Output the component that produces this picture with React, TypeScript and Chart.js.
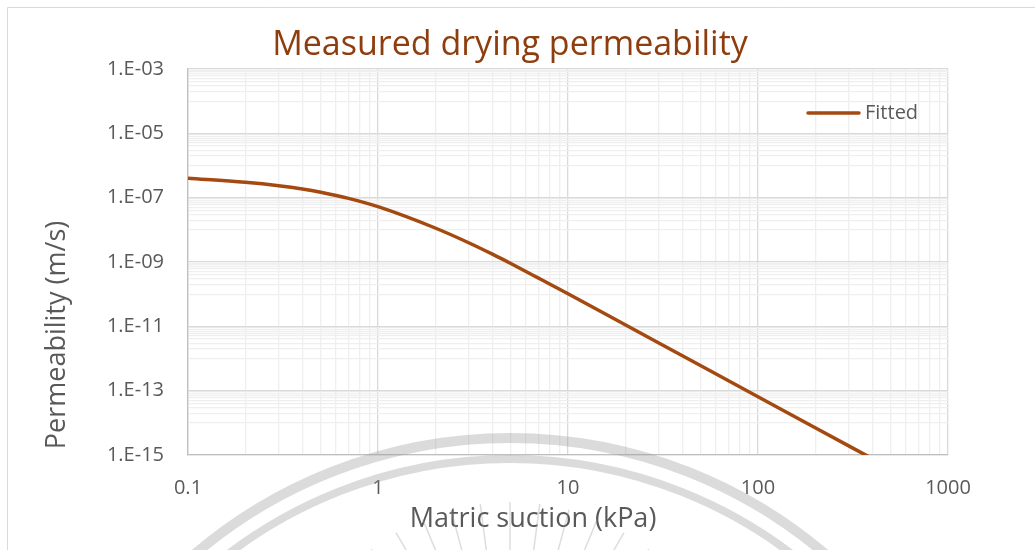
import React, { useEffect, useRef } from "react";
import { Chart, registerables } from "chart.js";

Chart.register(...registerables);

const suction = [0.1, 0.2, 0.3, 0.4, 0.5, 0.7, 1, 2, 3, 4, 5, 7, 10, 20, 40, 100, 200, 400];
const permeability = [
  4.0e-7, 3.0e-7, 2.35e-7, 1.86e-7, 1.47e-7, 9.5e-8, 5.24e-8, 1.14e-8, 3.97e-9, 1.75e-9,
  8.95e-10, 3.15e-10, 1.03e-10, 1.12e-11, 1.22e-12, 6.5e-14, 7.0e-15, 7.7e-16,
];

const xMajorTicks = [0.1, 1, 10, 100, 1000];
const yMajorTicks = [1e-15, 1e-13, 1e-11, 1e-9, 1e-7, 1e-5, 1e-3];

const chartTitle = "Measured drying permeability";
const xTitle = "Matric suction (kPa)";
const yTitle = "Permeability (m/s)";
const seriesName = "Fitted";

const LINE_COLOR = "#A44A10";
const TITLE_COLOR = "#8E3D0E";
const TEXT_COLOR = "#595959";
const FONT = "'Open Sans', 'Noto Sans', sans-serif";

function buildXTicks() {
  const out: { value: number; major: boolean }[] = [];
  for (let i = 0; i < xMajorTicks.length; i++) {
    const m = xMajorTicks[i];
    out.push({ value: m, major: true });
    if (i < xMajorTicks.length - 1) {
      for (let k = 2; k <= 9; k++) out.push({ value: m * k, major: false });
    }
  }
  return out;
}

function buildYTicks() {
  const out: { value: number; major: boolean }[] = [];
  for (let i = 0; i < yMajorTicks.length; i++) {
    const m = yMajorTicks[i];
    if (i > 0) {
      const sub = m / 10;
      for (let k = 1; k <= 9; k++) out.push({ value: sub * k, major: false });
    }
    out.push({ value: m, major: true });
  }
  return out;
}

function fmtY(v: number) {
  const e = Math.round(Math.log10(v));
  const s = String(Math.abs(e)).padStart(2, "0");
  return `1.E${e < 0 ? "-" : "+"}${s}`;
}

const decorPlugin = {
  id: "decor",
  beforeDraw(chart: any) {
    const { ctx, width, height } = chart;
    ctx.save();
    ctx.fillStyle = "#ffffff";
    ctx.fillRect(0, 0, width, height);
    ctx.strokeStyle = "#d9d9d9";
    ctx.lineWidth = 1;
    ctx.beginPath();
    ctx.moveTo(7.5, height);
    ctx.lineTo(7.5, 7.5);
    ctx.lineTo(width, 7.5);
    ctx.stroke();
    ctx.restore();
  },
  afterDraw(chart: any) {
    const { ctx } = chart;
    ctx.save();
    // Title
    ctx.fillStyle = TITLE_COLOR;
    ctx.font = `34px ${FONT}`;
    ctx.textAlign = "center";
    ctx.textBaseline = "alphabetic";
    ctx.fillText(chartTitle, 510, 55);
    // Axis titles
    ctx.fillStyle = TEXT_COLOR;
    ctx.font = `27px ${FONT}`;
    ctx.textBaseline = "middle";
    ctx.fillText(xTitle, 533, 519);
    ctx.save();
    ctx.translate(57, 335);
    ctx.rotate(-Math.PI / 2);
    ctx.fillText(yTitle, 0, 0);
    ctx.restore();
    // Legend
    ctx.strokeStyle = LINE_COLOR;
    ctx.lineWidth = 3.5;
    ctx.lineCap = "round";
    ctx.beginPath();
    ctx.moveTo(808, 113);
    ctx.lineTo(859, 113);
    ctx.stroke();
    ctx.fillStyle = TEXT_COLOR;
    ctx.font = `20px ${FONT}`;
    ctx.textAlign = "left";
    ctx.fillText(seriesName, 865, 113);
    // Watermark
    const cx = 510;
    const cy = 924;
    ctx.strokeStyle = "rgba(150,150,150,0.34)";
    ctx.lineCap = "butt";
    ctx.lineWidth = 10;
    ctx.beginPath();
    ctx.arc(cx, cy, 486, Math.PI, 2 * Math.PI);
    ctx.stroke();
    ctx.lineWidth = 8;
    ctx.beginPath();
    ctx.arc(cx, cy, 465, Math.PI, 2 * Math.PI);
    ctx.stroke();
    ctx.lineWidth = 1.5;
    ctx.strokeStyle = "rgba(150,150,150,0.32)";
    const rcx = 510;
    const rcy = 730;
    for (let a = -150; a <= -30; a += 7.5) {
      const t = (a * Math.PI) / 180;
      ctx.beginPath();
      ctx.moveTo(rcx + 228 * Math.cos(t), rcy + 228 * Math.sin(t));
      ctx.lineTo(rcx + 100 * Math.cos(t), rcy + 100 * Math.sin(t));
      ctx.stroke();
    }
    ctx.restore();
  },
};

export default function App() {
  const ref = useRef<HTMLCanvasElement | null>(null);

  useEffect(() => {
    if (!ref.current) return;
    const xt = buildXTicks();
    const yt = buildYTicks();
    const chart = new Chart(ref.current, {
      type: "line",
      data: {
        datasets: [
          {
            label: seriesName,
            data: suction.map((x, i) => ({ x, y: permeability[i] })),
            borderColor: LINE_COLOR,
            backgroundColor: LINE_COLOR,
            borderWidth: 3.5,
            pointRadius: 0,
            cubicInterpolationMode: "monotone",
            fill: false,
          },
        ],
      },
      options: {
        responsive: false,
        animation: false,
        layout: { padding: { left: 0, top: 69, right: 87, bottom: 0 } },
        plugins: {
          legend: { display: false },
          title: { display: false },
          tooltip: { enabled: false },
        },
        scales: {
          x: {
            type: "logarithmic",
            min: 0.1,
            max: 1000,
            afterBuildTicks: (s: any) => {
              s.ticks = xt.map((t) => ({ ...t }));
            },
            afterFit: (s: any) => {
              s.height = 95;
            },
            ticks: {
              autoSkip: false,
              maxRotation: 0,
              padding: 21,
              color: TEXT_COLOR,
              font: { family: FONT, size: 20 },
              callback: (v: any) => {
                const n = Number(v);
                return xMajorTicks.some((m) => Math.abs(m - n) / m < 1e-9) ? String(n) : "";
              },
            },
            grid: {
              drawTicks: false,
              color: (c: any) => (c.tick && c.tick.major ? "#d9d9d9" : "#efefef"),
              lineWidth: 1.3,
            },
            border: { display: true, color: "#bfbfbf", width: 1.3 },
          },
          y: {
            type: "logarithmic",
            min: 1e-15,
            max: 1e-3,
            afterBuildTicks: (s: any) => {
              s.ticks = yt.map((t) => ({ ...t }));
            },
            afterFit: (s: any) => {
              s.width = 188;
            },
            ticks: {
              autoSkip: false,
              padding: 24,
              color: TEXT_COLOR,
              font: { family: FONT, size: 20 },
              callback: (v: any) => {
                const n = Number(v);
                return yMajorTicks.some((m) => Math.abs(m - n) / m < 1e-9) ? fmtY(n) : "";
              },
            },
            grid: {
              drawTicks: false,
              color: (c: any) => (c.tick && c.tick.major ? "#d9d9d9" : "#efefef"),
              lineWidth: 1.3,
            },
            border: { display: true, color: "#bfbfbf", width: 1.3 },
          },
        },
      },
      plugins: [decorPlugin],
    } as any);
    return () => chart.destroy();
  }, []);

  return (
    <div style={{ position: "absolute", left: 0, top: 0, width: 1035, height: 550 }}>
      <canvas ref={ref} width={1035} height={550} style={{ display: "block" }} />
    </div>
  );
}
